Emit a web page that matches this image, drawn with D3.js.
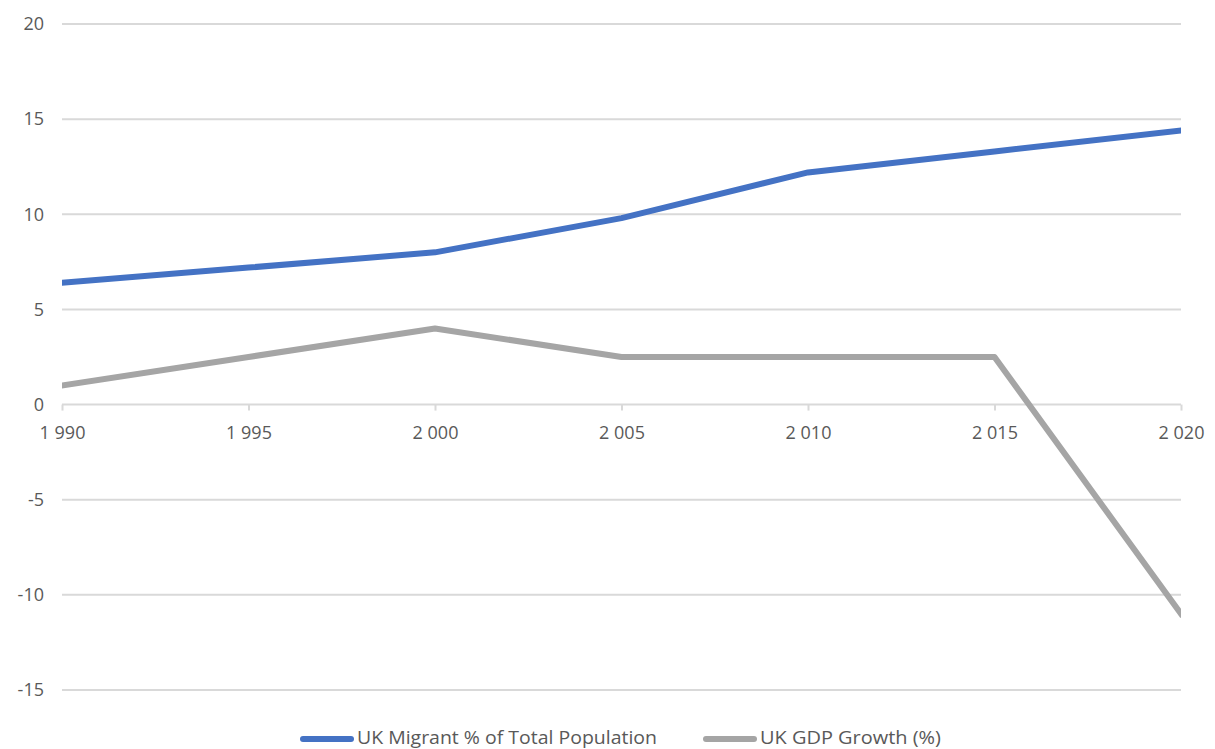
<!DOCTYPE html>
<html>
<head>
<meta charset="utf-8">
<script src="https://cdn.jsdelivr.net/npm/d3@7"></script>
<style>
  html, body { margin: 0; padding: 0; background: #fff; }
  svg { display: block; font-family: "Open Sans", "Liberation Sans", sans-serif; }
</style>
</head>
<body>
<svg id="chart" width="1215" height="749"></svg>
<script>
// Years on the horizontal axis
const years = [1990, 1995, 2000, 2005, 2010, 2015, 2020];
// Series values (%)
const migrantShare = [6.4, 7.2, 8.0, 9.8, 12.2, 13.3, 14.4];
const gdpGrowth = [1.0, 2.5, 4.0, 2.5, 2.5, 2.5, -11.0];
// Value axis ticks
const yTicks = [-15, -10, -5, 0, 5, 10, 15, 20];
const seriesNames = ["UK Migrant % of Total Population", "UK GDP Growth (%)"];
const seriesColors = ["#4472C4", "#A5A5A5"];

const svg = d3.select("#chart");
const plotLeft = 62, plotRight = 1181, plotTop = 24, plotBottom = 690;
const labelFont = "'Open Sans', 'Liberation Sans', sans-serif";

const x = d3.scaleLinear().domain([1990, 2020]).range([plotLeft, plotRight]);
const y = d3.scaleLinear().domain([-15, 20]).range([plotBottom, plotTop]);

// Plot-area clip so line ends are cut flush with the frame
svg.append("defs").append("clipPath").attr("id", "plot-clip")
  .append("rect")
  .attr("x", plotLeft).attr("y", 0)
  .attr("width", plotRight - plotLeft).attr("height", 749);

// Horizontal gridlines
svg.append("g")
  .selectAll("line")
  .data(yTicks)
  .join("line")
  .attr("x1", plotLeft).attr("x2", plotRight)
  .attr("y1", d => y(d)).attr("y2", d => y(d))
  .attr("stroke", "#d9d9d9").attr("stroke-width", 2);

// Value axis labels (plain hyphen for negatives)
const yAxis = d3.axisLeft(y).tickValues(yTicks).tickSize(0).tickPadding(18)
  .tickFormat(d => String(d));
const gy = svg.append("g").attr("transform", `translate(${plotLeft},0)`).call(yAxis);
gy.select(".domain").remove();
gy.selectAll("text").attr("font-size", 18).attr("fill", "#595959")
  .attr("font-family", labelFont);

// Year axis on the zero line, with a space grouping the thousands
const fmtYear = d => { const s = String(d); return s[0] + "\u00a0" + s.slice(1); };
const xAxis = d3.axisBottom(x).tickValues(years).tickSize(6).tickPadding(16)
  .tickFormat(fmtYear);
const gx = svg.append("g").attr("transform", `translate(0,${y(0)})`).call(xAxis);
gx.select(".domain").remove();
gx.selectAll(".tick line").attr("stroke", "#d9d9d9").attr("stroke-width", 2);
gx.selectAll("text").attr("font-size", 18).attr("fill", "#595959")
  .attr("font-family", labelFont);

// Series lines
const line = d3.line().x((d, i) => x(years[i])).y(d => y(d));
const lines = svg.append("g").attr("clip-path", "url(#plot-clip)");
[migrantShare, gdpGrowth].forEach((vals, k) => {
  lines.append("path")
    .datum(vals)
    .attr("d", line)
    .attr("fill", "none")
    .attr("stroke", seriesColors[k])
    .attr("stroke-width", 6)
    .attr("stroke-linejoin", "round")
    .attr("stroke-linecap", "square");
});

// Legend
const legendItems = [
  { name: seriesNames[0], color: seriesColors[0], x: 303, w: 300 },
  { name: seriesNames[1], color: seriesColors[1], x: 706, w: 181 }
];
const lg = svg.append("g");
legendItems.forEach(it => {
  lg.append("line")
    .attr("x1", it.x).attr("x2", it.x + 48)
    .attr("y1", 739).attr("y2", 739)
    .attr("stroke", it.color).attr("stroke-width", 6).attr("stroke-linecap", "round");
  lg.append("text")
    .attr("x", it.x + 54).attr("y", 744)
    .attr("font-size", 18).attr("fill", "#595959")
    .attr("font-family", labelFont)
    .attr("textLength", it.w).attr("lengthAdjust", "spacingAndGlyphs")
    .text(it.name);
});
</script>
</body>
</html>
